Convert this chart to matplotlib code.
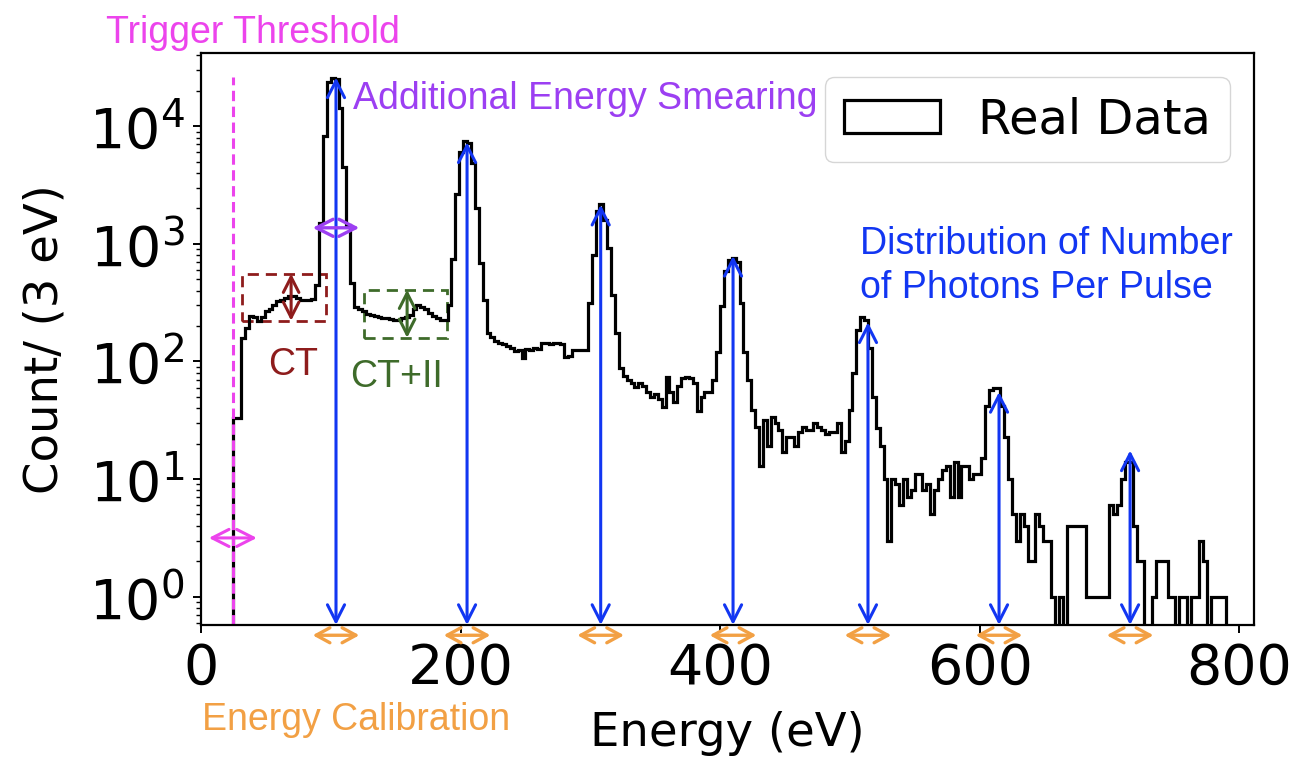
import numpy as np
from matplotlib import pyplot as plt
from matplotlib.patches import Rectangle

BIN_START = 25
BIN_WIDTH = 3

# counts per 3 eV bin, segment by segment
counts_ct = [33, 33, 158, 192, 242, 240, 219, 240, 267, 280, 300, 324, 335, 346, 357,
             357, 346, 335, 335, 335, 340, 450]
counts_peak1 = [1500, 8200, 23600, 25700, 25000, 14400, 4540, 1450, 465, 292]
counts_gap1 = [280, 270, 255, 250, 245, 240, 235, 235, 230, 225, 225, 235, 240, 250, 280,
               304, 290, 277, 260, 244, 235, 227, 225]
counts_peak2 = [300, 740, 2640, 6100, 7440, 7200, 4900, 2030, 690, 335, 175]
counts_gap2 = [160, 150, 145, 140, 135, 130, 122, 125, 107, 127, 125, 130, 127, 145, 145,
               140, 145, 145, 140, 110, 112, 124, 124, 125, 124]
counts_peak3 = [314, 809, 1890, 2170, 1610, 920, 370, 175, 88, 75, 70, 65, 61]
counts_gap3 = [65, 62, 55, 50, 53, 48, 41, 74, 55, 45, 62, 72, 74, 72, 65, 38, 50, 55, 55,
               70, 121]
counts_peak4 = [294, 585, 735, 760, 700, 316, 121, 70]
counts_gap4 = [39, 28, 13, 32, 19, 34, 30, 26, 17, 23, 23, 19, 25, 28, 26, 26, 30, 28, 26,
               24, 25, 25, 30, 17, 21, 39]
counts_peak5 = [80, 186, 238, 225, 130, 50, 27, 19, 10, 3, 10]
counts_gap5 = [9, 6, 10, 7, 8, 11, 11, 8, 9, 5, 8, 10, 12, 13, 7, 14, 7, 13, 13, 10, 11, 11]
counts_peak6 = [15, 42, 57, 60, 60, 42, 23, 10, 5]
counts_tail = [3, 5, 4, 2, 2, 5, 4, 3, 3, 1, 0, 1, 0, 4, 4, 4, 4, 4, 1, 1, 1, 1, 1, 1,
               6, 5, 6, 10, 14, 14, 4, 2, 2, 0, 0, 1, 2, 2, 2, 1, 1, 0, 1, 1, 0, 1, 1, 3,
               2, 0, 1, 1, 1, 1]

counts = (counts_ct + counts_peak1 + counts_gap1 + counts_peak2 + counts_gap2 + counts_peak3
          + counts_gap3 + counts_peak4 + counts_gap4 + counts_peak5 + counts_gap5
          + counts_peak6 + counts_tail)

# annotation values
peak_energies = [104, 205, 308, 410, 514, 615, 716]
peak_tops = [26000, 7300, 2150, 790, 215, 55, 17.5]
trigger_energy = 24.5

MAGENTA = '#EC44EC'
PURPLE = '#9C3FF2'
BLUE = '#1236F2'
DARKRED = '#8E1C1C'
GREEN = '#3E6B2A'
ORANGE = '#F2A044'
ANNOT_FONT = 'Liberation Sans'
ANNOT_SIZE = 27

YMIN, YMAX = 0.575, 4.2e4


def double_arrow(ax, start, end, color, lw, scale, **kw):
    ax.annotate('', xy=end, xytext=start, annotation_clip=False,
                arrowprops=dict(arrowstyle='<->,head_length=0.55,head_width=0.28',
                                color=color, lw=lw, mutation_scale=scale,
                                shrinkA=0, shrinkB=0), **kw)


def main():
    edges = BIN_START + BIN_WIDTH * np.arange(len(counts) + 1)

    fig = plt.figure(figsize=(12.98, 7.59), dpi=100)
    ax = fig.add_axes([0.1549, 0.1766, 0.8112, 0.7536])
    ax.set_yscale('log')

    ax.hist(edges[:-1], bins=edges, weights=counts, histtype='step',
            color='black', lw=2.3, label='Real Data')

    ax.set_xlim(0, 811.5)
    ax.set_ylim(YMIN, YMAX)
    ax.set_xticks([0, 200, 400, 600, 800])

    for side in ax.spines.values():
        side.set_linewidth(1.6)
    ax.tick_params(axis='both', which='major', labelsize=40, length=6, width=1.4, pad=6)
    ax.tick_params(axis='y', which='minor', length=3.5, width=1.0)
    ax.set_xlabel('Energy (eV)', fontsize=33.5, labelpad=11)
    ax.set_ylabel('Count/ (3 eV)', fontsize=33.5, labelpad=15)

    ax.legend(loc='upper right', fontsize=34.5)

    # trigger threshold
    ax.plot([trigger_energy, trigger_energy], [YMIN, 2.6e4], color=MAGENTA, lw=2.2,
            ls=(0, (3.4, 1.8)))
    double_arrow(ax, (trigger_energy - 18.5, 3.16), (trigger_energy + 18.5, 3.16),
                 MAGENTA, 2.2, 22)
    fig.text(253 / 1298, 1 - 43 / 759, 'Trigger Threshold', color=MAGENTA,
             fontsize=ANNOT_SIZE, family=ANNOT_FONT, ha='center', va='baseline')

    # peaks: blue arrows and orange calibration arrows
    for energy, top in zip(peak_energies, peak_tops):
        double_arrow(ax, (energy, YMIN), (energy, top), BLUE, 2.2, 22)
        ax.annotate('', xy=(energy + 18, -0.018), xytext=(energy - 18, -0.018),
                    xycoords=('data', 'axes fraction'), annotation_clip=False,
                    arrowprops=dict(arrowstyle='<->,head_length=0.55,head_width=0.3',
                                    color=ORANGE, lw=2.4, mutation_scale=18,
                                    shrinkA=0, shrinkB=0))

    # additional energy smearing
    double_arrow(ax, (86, 1370), (122, 1370), PURPLE, 2.4, 22)
    ax.text(117, 13900, 'Additional Energy Smearing', color=PURPLE,
            fontsize=ANNOT_SIZE, family=ANNOT_FONT, ha='left', va='baseline')

    # CT box
    ax.add_patch(Rectangle((31.6, 222), 96.3 - 31.6, 557 - 222, fill=False,
                           ec=DARKRED, lw=2.0, ls=(0, (4, 2.5))))
    double_arrow(ax, (69.4, 222), (69.4, 557), DARKRED, 2.2, 20)
    ax.text(70.9, 77, 'CT', color=DARKRED, fontsize=ANNOT_SIZE, family=ANNOT_FONT,
            ha='center', va='baseline')

    # CT+II box
    ax.add_patch(Rectangle((125.6, 159), 189.6 - 125.6, 407 - 159, fill=False,
                           ec=GREEN, lw=2.0, ls=(0, (4, 2.5))))
    double_arrow(ax, (158.8, 159), (158.8, 407), GREEN, 2.2, 20)
    ax.text(150.8, 61, 'CT+II', color=GREEN, fontsize=ANNOT_SIZE, family=ANNOT_FONT,
            ha='center', va='baseline')

    # photon number distribution
    ax.text(508, 826, 'Distribution of Number', color=BLUE, fontsize=ANNOT_SIZE,
            family=ANNOT_FONT, ha='left', va='baseline')
    ax.text(508, 349, 'of Photons Per Pulse', color=BLUE, fontsize=ANNOT_SIZE,
            family=ANNOT_FONT, ha='left', va='baseline')

    fig.text(202 / 1298, 1 - 730 / 759, 'Energy Calibration', color=ORANGE,
             fontsize=ANNOT_SIZE, family=ANNOT_FONT, ha='left', va='baseline')

    fig.savefig('out.png', dpi=100)


if __name__ == '__main__':
    main()
